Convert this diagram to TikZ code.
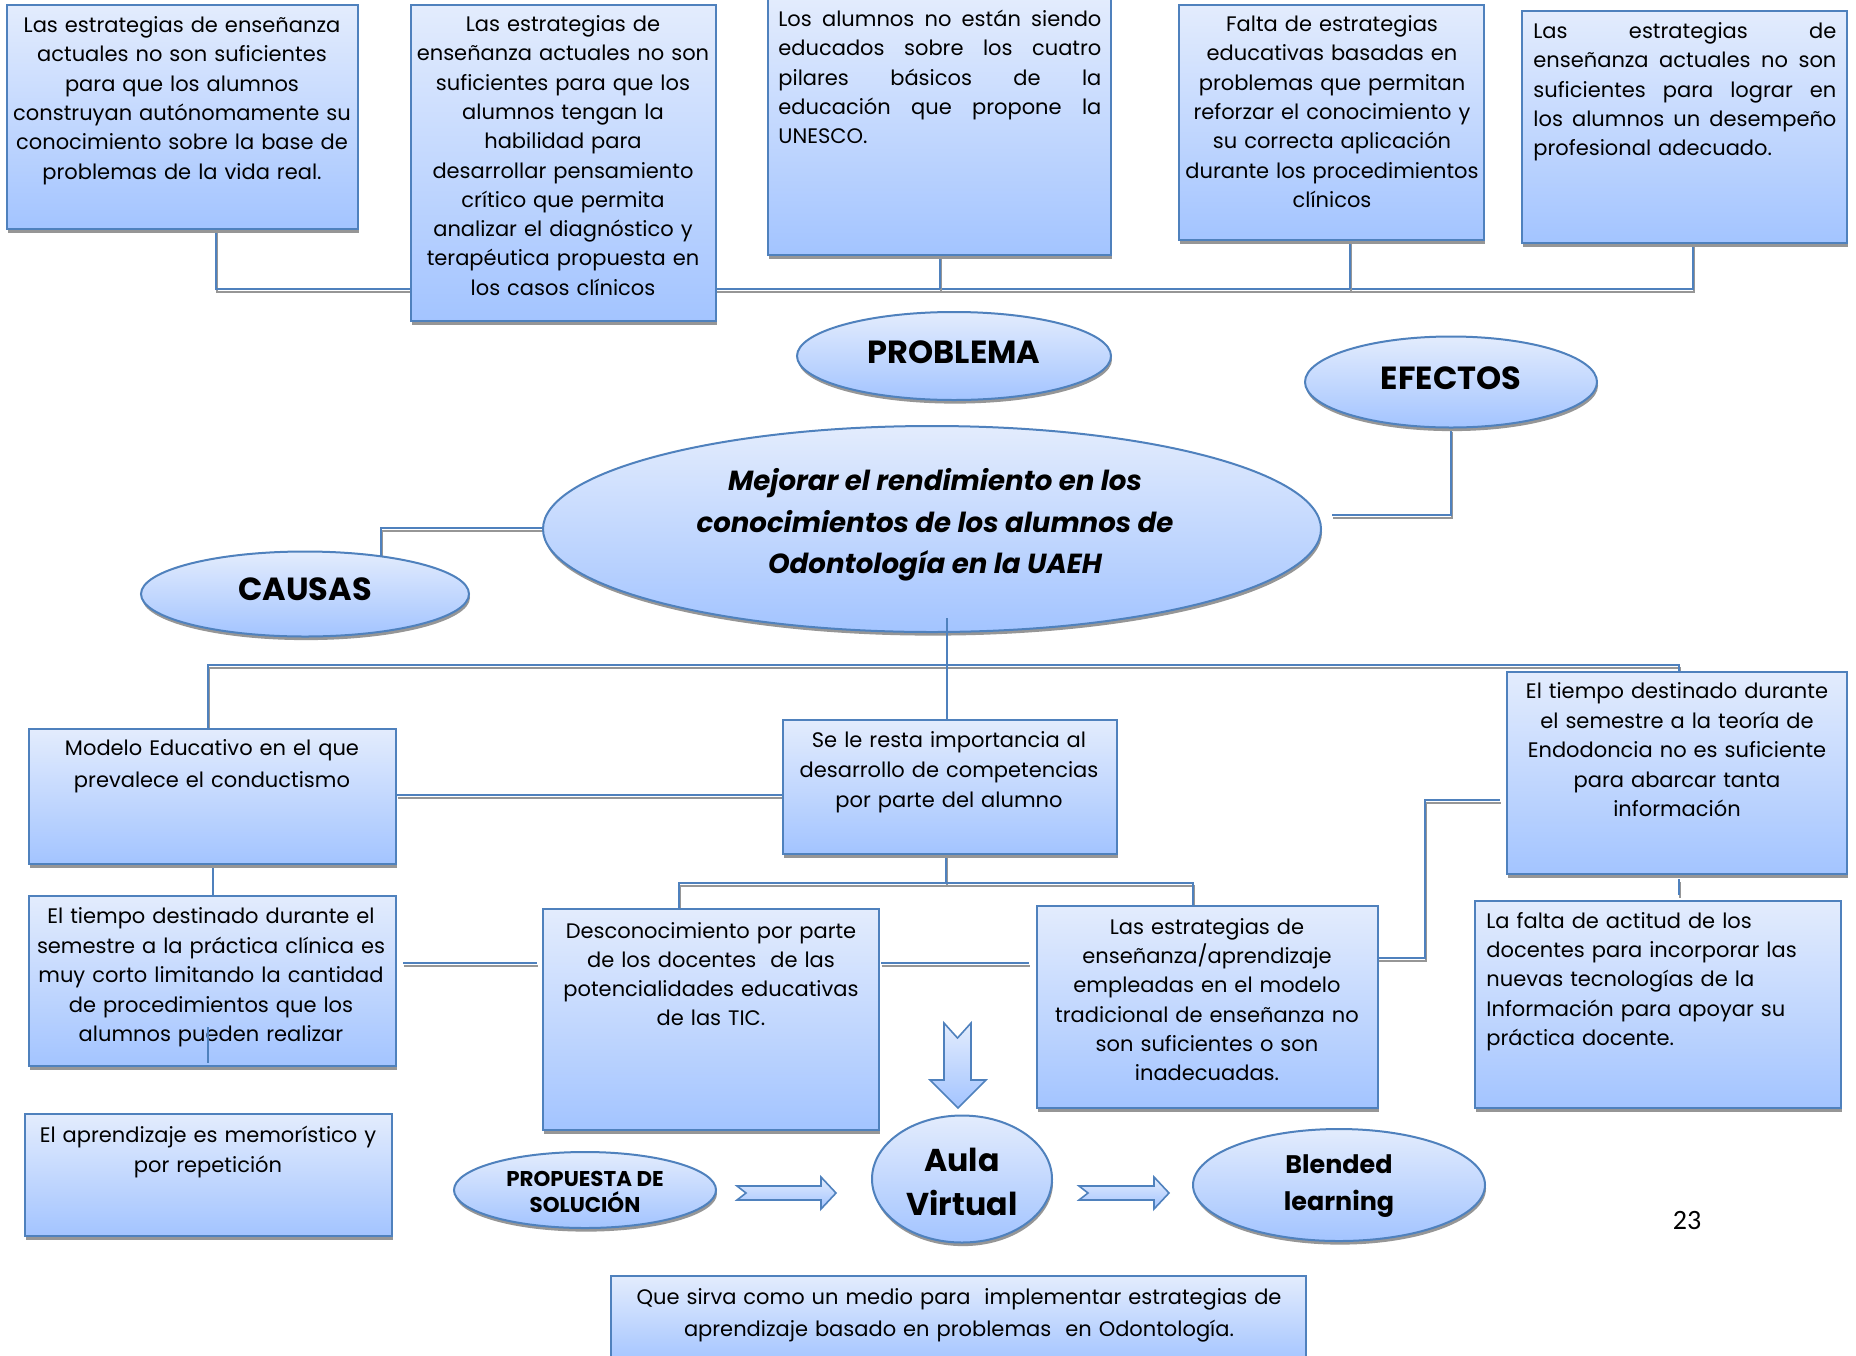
\documentclass[tikz,border=0pt]{standalone}
\usepackage{fontspec}
\setmainfont{Poppins}
\newfontfamily\pagefont{Carlito}
\usetikzlibrary{shapes.geometric,shadows}
\pgfdeclarelayer{bg}
\pgfsetlayers{bg,main}

\definecolor{edge}{RGB}{79,129,189}
\definecolor{filltop}{RGB}{227,236,253}
\definecolor{fillbot}{RGB}{163,196,255}
\definecolor{shade}{RGB}{150,150,150}

% one text line stretched to a given measure (normal, stretchable word spaces)
\newcommand\jl[2]{{\spaceskip=0pt\xspaceskip=0pt\makebox[#1][s]{#2}}}
% rectangular panel given by its corners (pixel grid, y downwards)
\newcommand\panel[5]{\node[cbx, minimum width={(#4-(#2))*0.5pt}, minimum height={(#5-(#3))*0.5pt}] (#1) at ({(#2+#4)/2},{(#3+#5)/2}) {};}

\tikzset{
  softshadow/.style={drop shadow={fill=shade, opacity=1, shadow xshift=0.5pt, shadow yshift=-1.8pt}},
  cbx/.style={draw=edge, line width=1pt, top color=filltop, bottom color=fillbot, inner sep=0pt, softshadow},
  oval/.style={ellipse, draw=edge, line width=1pt, top color=filltop, bottom color=fillbot, inner sep=0pt, softshadow},
  body/.style={font=\fontsize{10.5}{14.65}\selectfont, inner sep=0pt, anchor=base, align=center},
  title/.style={font=\bfseries\fontsize{16}{18}\selectfont, inner sep=0pt, align=center},
  conn/.style={draw=edge, line width=1pt, preaction={draw=shade, line width=1pt, transform canvas={xshift=0.3pt, yshift=-1.5pt}}},
  plain/.style={draw=edge, line width=1pt},
  blockarrow/.style={draw=edge, line width=0.8pt, top color=filltop, bottom color=fillbot, line join=miter},
}

\begin{document}
\begin{tikzpicture}[x=0.5pt, y=-0.5pt]
\useasboundingbox (0,0) rectangle (1856,1355);

% ---------------- effects row ----------------
\panel{b1}{7}{5}{358}{229}
\panel{b2}{411}{5}{716}{321}
\panel{b3}{768}{-3}{1111}{255}
\panel{b4}{1179}{5}{1484}{240}
\panel{b5}{1522}{11}{1847}{243}

\node[body, text width=175pt] (t1) at (182,32.5) {Las estrategias de enseñanza\\actuales no son suficientes\\para que los alumnos\\construyan autónomamente su\\conocimiento sobre la base de\\problemas de la vida real.};
\node[body, text width=152pt] (t2) at (563,31.5) {Las estrategias de\\enseñanza actuales no son\\suficientes para que los\\alumnos tengan la\\habilidad para\\desarrollar pensamiento\\crítico que permita\\analizar el diagnóstico y\\terapéutica propuesta en\\los casos clínicos};
\node[body, align=left, text width=161.5pt, anchor=base west] (t3) at (778,26.5) {\jl{161.5pt}{Los alumnos no están siendo}\\\jl{161.5pt}{educados sobre los cuatro}\\\jl{161.5pt}{pilares básicos de la}\\\jl{161.5pt}{educación que propone la}\\UNESCO.};
\node[body, text width=152pt] (t4) at (1332,31.5) {Falta de estrategias\\educativas basadas en\\problemas que permitan\\reforzar el conocimiento y\\su correcta aplicación\\durante los procedimientos\\clínicos};
\node[body, align=left, text width=151.5pt, anchor=base west] (t5) at (1533,38.5) {\jl{151.5pt}{Las estrategias de}\\\jl{151.5pt}{enseñanza actuales no son}\\\jl{151.5pt}{suficientes para lograr en}\\\jl{151.5pt}{los alumnos un desempeño}\\profesional adecuado.};

% ---------------- central ovals ----------------
\node[oval, minimum width=157pt, minimum height=44pt] (prob) at (954,356) {};
\node[title] (tprob) at (954,352) {PROBLEMA};
\node[oval, minimum width=146pt, minimum height=45.5pt] (efe) at (1451,382) {};
\node[title] (tefe) at (1451,378) {EFECTOS};
\node[oval, minimum width=389pt, minimum height=103pt] (main) at (932,529) {};
\node[title, font=\bfseries\itshape\fontsize{13.8}{20.75}\selectfont] (tmain) at (935,525) {Mejorar el rendimiento en los\\conocimientos de los alumnos de\\Odontología en la UAEH};
\node[oval, minimum width=164pt, minimum height=42.5pt] (cau) at (305,594) {};
\node[title] (tcau) at (305,589) {CAUSAS};

% ---------------- causes ----------------
\panel{mod}{29}{729}{396}{864}
\panel{sele}{783}{720}{1117}{854}
\panel{endo}{1507}{672}{1847}{874}
\panel{tc}{29}{896}{396}{1066}
\panel{desc}{543}{909}{879}{1130}
\panel{estr}{1037}{906}{1378}{1108}
\panel{falta}{1475}{901}{1841}{1108}
\panel{apr}{25}{1114}{392}{1236}

\node[body, text width=183pt, font=\fontsize{10.5}{16}\selectfont] (tmod) at (212,755.5) {Modelo Educativo en el que\\prevalece el conductismo};
\node[body, text width=166pt, font=\fontsize{10.5}{15}\selectfont] (tsele) at (949,747.5) {Se le resta importancia al\\desarrollo de competencias\\por parte del alumno};
\node[body, text width=170pt, font=\fontsize{10.5}{14.75}\selectfont] (tendo) at (1677,698.5) {El tiempo destinado durante\\el semestre a la teoría de\\Endodoncia no es suficiente\\para abarcar tanta\\información};
\node[body, text width=183pt, font=\fontsize{10.5}{14.75}\selectfont] (ttc) at (211,923.5) {El tiempo destinado durante el\\semestre a la práctica clínica es\\muy corto limitando la cantidad\\de procedimientos que los\\alumnos pueden realizar};
\node[body, text width=168pt, font=\fontsize{10.5}{14.5}\selectfont] (tdesc) at (711,938.5) {Desconocimiento por parte\\de los docentes~ de las\\potencialidades educativas\\de las TIC.};
\node[body, text width=170pt, font=\fontsize{10.5}{14.6}\selectfont] (testr) at (1207,934.5) {Las estrategias de\\enseñanza/aprendizaje\\empleadas en el modelo\\tradicional de enseñanza no\\son suficientes o son\\inadecuadas.};
\node[body, align=left, text width=176pt, anchor=base west, font=\fontsize{10.5}{14.6}\selectfont] (tfalta) at (1486,928.5) {La falta de actitud de los\\docentes para incorporar las\\nuevas tecnologías de la\\Información para apoyar su\\práctica docente.};
\node[body, text width=183pt, font=\fontsize{10.5}{15}\selectfont] (tapr) at (208,1142.5) {El aprendizaje es memorístico y\\por repetición};

% ---------------- proposal ----------------
\node[oval, minimum width=90pt, minimum height=63.5pt] (aula) at (962,1179) {};
\node[title, font=\bfseries\fontsize{15.8}{22}\selectfont] (taula) at (962,1182) {Aula\\Virtual};
\node[oval, minimum width=131pt, minimum height=38pt] (prop) at (585,1190) {};
\node[title, font=\bfseries\fontsize{10.7}{13}\selectfont] (tprop) at (585,1192) {PROPUESTA DE\\SOLUCIÓN};
\node[oval, minimum width=146pt, minimum height=56pt] (blend) at (1339,1185) {};
\node[title, font=\bfseries\fontsize{12.7}{18.5}\selectfont] (tblend) at (1339,1186) {Blended\\learning};

\panel{que}{611}{1276}{1306}{1364}
\node[body, text width=347pt, font=\fontsize{10.5}{16}\selectfont] (tque) at (959,1304.5) {Que sirva como un medio para~ implementar estrategias de\\aprendizaje basado en problemas~ en Odontología.};

% block arrows
\draw[blockarrow] (944,1023) -- (957.5,1038) -- (971,1023) -- (971,1080) -- (986,1080) -- (958,1108) -- (930,1080) -- (944,1080) -- cycle;
\draw[blockarrow] (737,1186) -- (821,1186) -- (821,1177) -- (836,1193) -- (821,1209) -- (821,1200) -- (737,1200) -- (746,1193) -- cycle;
\draw[blockarrow] (1079,1186) -- (1154,1186) -- (1154,1177) -- (1169,1193) -- (1154,1209) -- (1154,1200) -- (1079,1200) -- (1088,1193) -- cycle;

\node[font=\pagefont\fontsize{14}{14}\selectfont, inner sep=0pt] (pg) at (1687,1220) {23};

% ---------------- connectors ----------------
\coordinate (tbL) at (216,289);
\coordinate (tb3) at (940,289);
\coordinate (tb4) at (1350,289);
\coordinate (tbR) at (1693,289);
\coordinate (efEnd) at (1332,515);
\coordinate (caK) at (381,528);
\coordinate (mainV) at (947,618);
\coordinate (bL) at (208,665);
\coordinate (bR) at (1679,665);
\coordinate (ms) at (590,795);
\coordinate (sk) at (946,883);
\coordinate (skL) at (679,883);
\coordinate (skR) at (1193,883);
\coordinate (tcA) at (403,963);
\coordinate (tcB) at (537,963);
\coordinate (deA) at (881,963);
\coordinate (deB) at (1029,963);
\coordinate (eeA) at (1373,958);
\coordinate (eeM) at (1425,880);
\coordinate (eeB) at (1500,800);
\coordinate (efA) at (1679,879);
\coordinate (efB) at (1679,895);
\coordinate (tcIn) at (208,1027);
\coordinate (tcOut) at (208,1063);

\begin{pgfonlayer}{bg}
  \fill[white] (0,0) rectangle (1856,1355);
  \draw[conn] (b1.south -| tbL) -- (tbL) -- (tbR) -- (b5.south -| tbR);
  \draw[conn] (b3.south -| tb3) -- (tb3);
  \draw[conn] (b4.south -| tb4) -- (tb4);
  \draw[conn] (efe.south) |- (efEnd);
  \draw[conn] (cau.center -| caK) -- (caK) -- (caK -| main.west);
  \draw[conn] (mod.north -| bL) -- (bL) -- (bR) -- (endo.north -| bR);
  \draw[conn] (mod.east |- ms) -- (sele.west |- ms);
  \draw[conn] (mod.south) -- (tc.north);
  \draw[conn] (sele.south -| sk) -- (sk);
  \draw[conn] (desc.north -| skL) -- (skL) -- (skR) -- (estr.north -| skR);
  \draw[conn] (tcA) -- (tcB);
  \draw[conn] (deA) -- (deB);
  \draw[conn] (eeA) -- (eeA -| eeM) -- (eeM |- eeB) -- (eeB);
  \draw[conn] (efA) -- (efB);
\end{pgfonlayer}
\draw[plain] (mainV) -- (sele.north -| mainV);
\draw[plain] (tcIn) -- (tcOut);
\end{tikzpicture}
\end{document}
